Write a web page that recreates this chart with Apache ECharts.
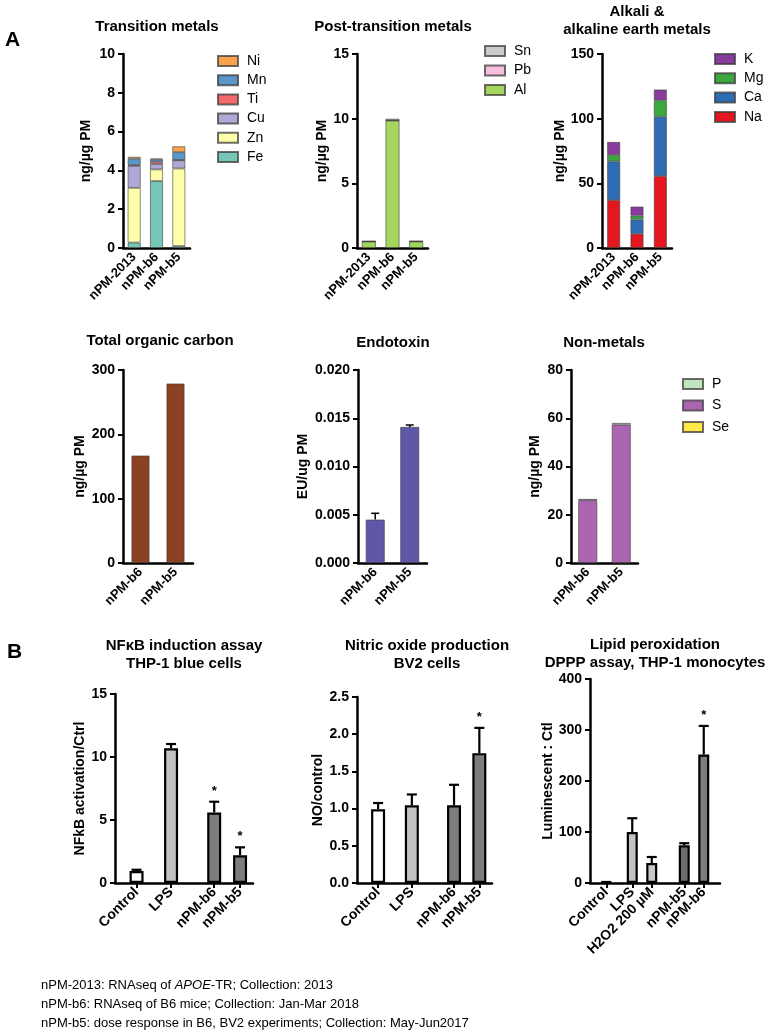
<!DOCTYPE html>
<html><head><meta charset="utf-8">
<script src="https://cdn.jsdelivr.net/npm/echarts@6/dist/echarts.min.js"></script>
<style>html,body{margin:0;padding:0;background:#fff}#c{width:769px;height:1034px}</style>
</head><body><div id="c"></div>
<script>
// ---------------- DATA ----------------
const samples3 = ['nPM-2013', 'nPM-b6', 'nPM-b5'];
const samples2 = ['nPM-b6', 'nPM-b5'];
// Transition metals (ng/µg PM)
const fe = [0.28, 3.45, 0.10];
const zn = [2.82, 0.60, 4.00];
const cu = [1.13, 0.27, 0.42];
const ti = [0.05, 0.12, 0.02];
const mn = [0.32, 0.12, 0.40];
const ni = [0.10, 0.05, 0.30];
// Post-transition metals
const al = [0.50, 9.85, 0.50];
const pb = [0.01, 0.02, 0.01];
const sn = [0.02, 0.12, 0.03];
// Alkali & alkaline earth metals
const na = [37, 11, 55.5];
const ca = [30, 11, 46];
const mg = [5, 3, 12.7];
const kk = [10, 7, 8.3];
// Total organic carbon
const toc = [167, 279];
// Endotoxin (EU/ug PM)
const endo = [0.0045, 0.0141];
const endoErr = [0.00065, 0.0002];
// Non-metals
const se = [0.05, 0.05];
const su = [26, 57.3];
const ph = [0.5, 0.7];
// B: NFkB
const nfkbCats = ['Control', 'LPS', 'nPM-b6', 'nPM-b5'];
const nfkbMean = [0.95, 10.7, 5.6, 2.2];
const nfkbErr = [0.1, 0.33, 0.85, 0.63];
const nfkbSig = [0, 0, 1, 1];
// B: Nitric oxide
const noCats = ['Control', 'LPS', 'nPM-b6', 'nPM-b5'];
const noMean = [0.99, 1.045, 1.045, 1.745];
const noErr = [0.085, 0.145, 0.275, 0.34];
const noSig = [0, 0, 0, 1];
// B: Lipid peroxidation
const lipCats = ['Control', 'LPS', 'H2O2 200 µM', 'nPM-b5', 'nPM-b6'];
const lipMean = [1, 100, 39, 74, 252];
const lipErr = [1, 27, 12, 4, 56];
const lipSig = [0, 0, 0, 0, 1];

// ---------------- LAYOUT / STYLE ----------------
const FONT = "'Liberation Sans', Arial, Helvetica, sans-serif";
const NARROW = "'Liberation Sans Narrow', 'Arial Narrow', 'Liberation Sans', Arial, sans-serif";
const nfkbSlots = [2, 6, 11, 14], nfkbN = 16;
const noSlots = [2, 6, 11, 14], noN = 16;
const lipSlots = [2, 6, 9, 14, 17], lipN = 20;
const nfkbFill = ['#ffffff', '#c2c2c2', '#7d7d7d', '#7d7d7d'];
const noFill = ['#ffffff', '#c2c2c2', '#7d7d7d', '#7d7d7d'];
const lipFill = ['#ffffff', '#c2c2c2', '#c8c8c8', '#6e6e6e', '#7d7d7d'];

const grids = [
  {left: 123, top: 54, width: 67, height: 194},
  {left: 357, top: 54, width: 71, height: 194},
  {left: 602, top: 54, width: 70, height: 194},
  {left: 123, top: 370, width: 70, height: 193},
  {left: 358, top: 370, width: 69, height: 193},
  {left: 571, top: 370, width: 67, height: 193},
  {left: 115, top: 694, width: 138, height: 189},
  {left: 357, top: 697, width: 135, height: 186},
  {left: 590, top: 679, width: 130, height: 204}
];

function slotCats(n, slots, labels) {
  const a = [];
  for (let i = 0; i < n; i++) a.push('_' + i);
  slots.forEach((s, i) => { a[s] = labels[i]; });
  return a;
}
const isReal = (i, v) => typeof v === 'string' && v.charAt(0) !== '_';

function xCat(gi, data, opts) {
  opts = opts || {};
  return {
    type: 'category', gridIndex: gi, data: data,
    axisLine: {show: true, lineStyle: {color: '#000', width: 2.5}},
    axisTick: opts.ticks ? {show: true, alignWithLabel: true, interval: isReal, length: 5, lineStyle: {color: '#000', width: 2}} : {show: false},
    axisLabel: {rotate: 45, interval: 0, hideOverlap: false,
      fontSize: opts.fs || 13, fontWeight: 'bold', color: '#000',
      fontFamily: FONT, margin: 7, formatter: v => (v.charAt(0) === '_' ? '' : v)},
    splitLine: {show: false}
  };
}
function yVal(gi, max, interval, name, nameGap, fmt, nameSize) {
  return {
    type: 'value', gridIndex: gi, min: 0, max: max, interval: interval,
    name: name, nameLocation: 'middle', nameGap: nameGap, nameRotate: 90,
    nameTextStyle: {fontSize: nameSize || 14, fontWeight: 'bold', color: '#000', fontFamily: FONT},
    axisLine: {show: true, lineStyle: {color: '#000', width: 2.5}},
    axisTick: {show: true, length: 5, lineStyle: {color: '#000', width: 2}},
    axisLabel: {fontSize: 14, fontWeight: 'bold', color: '#000', fontFamily: FONT, margin: 8, formatter: fmt},
    splitLine: {show: false}
  };
}

const thinBorder = {borderColor: 'rgba(60,60,60,0.75)', borderWidth: 0.8};
function stackBar(name, gi, data, color, stack, w) {
  return {name: name, type: 'bar', xAxisIndex: gi, yAxisIndex: gi, stack: stack, data: data, barWidth: w,
    itemStyle: Object.assign({color: color}, thinBorder), emphasis: {disabled: true}, animation: false};
}

function errSeries(gi, items, lw, capHalf) {
  return {
    type: 'custom', xAxisIndex: gi, yAxisIndex: gi, data: items, encode: {x: 0, y: 1}, clip: false, z: 5, animation: false,
    renderItem: function (params, api) {
      const x = api.value(0), m = api.value(1), e = api.value(2), sig = api.value(3);
      const p0 = api.coord([x, m]);
      const p1 = api.coord([x, m + e]);
      const ls = {stroke: '#000', lineWidth: lw};
      const ch = [
        {type: 'line', shape: {x1: p0[0], y1: p0[1], x2: p1[0], y2: p1[1]}, style: ls},
        {type: 'line', shape: {x1: p1[0] - capHalf, y1: p1[1], x2: p1[0] + capHalf, y2: p1[1]}, style: ls}
      ];
      if (sig) ch.push({type: 'text', x: p1[0], y: p1[1] - 4,
        style: {text: '*', fill: '#000', font: 'bold 13px ' + FONT, align: 'center', verticalAlign: 'bottom'}});
      return {type: 'group', children: ch};
    }
  };
}
function slotBars(gi, n, slots, vals, fills, w) {
  const arr = new Array(n).fill('-');
  slots.forEach((s, i) => { arr[s] = {value: vals[i], itemStyle: {color: fills[i]}}; });
  return {type: 'bar', xAxisIndex: gi, yAxisIndex: gi, data: arr, barWidth: w, animation: false,
    itemStyle: {borderColor: '#000', borderWidth: 2.2}, emphasis: {disabled: true}};
}

function legendAt(names, left, top, gap) {
  return {data: names, orient: 'vertical', left: left, top: top, itemWidth: 20, itemHeight: 10, itemGap: gap,
    icon: 'rect', selectedMode: false, padding: 0,
    textStyle: {fontSize: 14, color: '#000', fontFamily: FONT, lineHeight: 14, padding: [0, 0, 0, 4]}};
}
function ttl(text, cx, top) {
  return {text: text, left: cx, top: top, textAlign: 'center', padding: 0,
    textStyle: {fontSize: 15, fontWeight: 'bold', color: '#000', fontFamily: FONT, lineHeight: 18}};
}

const option = {
  backgroundColor: '#fff',
  animation: false,
  title: [
    ttl('Transition metals', 157, 18),
    ttl('Post-transition metals', 393, 18),
    ttl('Alkali &\nalkaline earth metals', 637, 3),
    ttl('Total organic carbon', 160, 332),
    ttl('Endotoxin', 393, 334),
    ttl('Non-metals', 604, 334),
    ttl('NFκB induction assay\nTHP-1 blue cells', 184, 637),
    ttl('Nitric oxide production\nBV2 cells', 427, 637),
    ttl('Lipid peroxidation\nDPPP assay, THP-1 monocytes', 655, 636)
  ],
  legend: [
    legendAt(['Ni', 'Mn', 'Ti', 'Cu', 'Zn', 'Fe'], 217, 54, 5.2),
    legendAt(['Sn', 'Pb', 'Al'], 484, 44, 5.5),
    legendAt(['K', 'Mg', 'Ca', 'Na'], 714, 52, 5.3),
    legendAt(['P', 'S', 'Se'], 682, 377, 7.5)
  ],
  grid: grids,
  xAxis: [
    xCat(0, samples3), xCat(1, samples3), xCat(2, samples3),
    xCat(3, samples2), xCat(4, samples2), xCat(5, samples2),
    xCat(6, slotCats(nfkbN, nfkbSlots, nfkbCats), {ticks: true, fs: 14}),
    xCat(7, slotCats(noN, noSlots, noCats), {ticks: true, fs: 14}),
    xCat(8, slotCats(lipN, lipSlots, lipCats), {ticks: true, fs: 14})
  ],
  yAxis: [
    yVal(0, 10, 2, 'ng/µg PM', 30),
    yVal(1, 15, 5, 'ng/µg PM', 28),
    yVal(2, 150, 50, 'ng/µg PM', 35),
    yVal(3, 300, 100, 'ng/µg PM', 36),
    yVal(4, 0.02, 0.005, 'EU/ug PM', 48, v => v.toFixed(3)),
    yVal(5, 80, 20, 'ng/µg PM', 29),
    yVal(6, 15, 5, 'NFkB activation/Ctrl', 28),
    yVal(7, 2.5, 0.5, 'NO/control', 32, v => v.toFixed(1)),
    yVal(8, 400, 100, 'Luminescent : Ctl', 31)
  ],
  series: [
    stackBar('Fe', 0, fe, '#74C7B6', 'tm', 13),
    stackBar('Zn', 0, zn, '#FDFDAA', 'tm', 13),
    stackBar('Cu', 0, cu, '#B0A9D5', 'tm', 13),
    stackBar('Ti', 0, ti, '#F46A6A', 'tm', 13),
    stackBar('Mn', 0, mn, '#5A97CB', 'tm', 13),
    stackBar('Ni', 0, ni, '#F8A34B', 'tm', 13),

    stackBar('Al', 1, al, '#A4D65E', 'pt', 14),
    stackBar('Pb', 1, pb, '#F7BFDD', 'pt', 14),
    stackBar('Sn', 1, sn, '#CBCBCB', 'pt', 14),

    stackBar('Na', 2, na, '#E4161F', 'ak', 13),
    stackBar('Ca', 2, ca, '#2E6CB4', 'ak', 13),
    stackBar('Mg', 2, mg, '#3CA73F', 'ak', 13),
    stackBar('K', 2, kk, '#8A3B9E', 'ak', 13),

    stackBar('TOC', 3, toc, '#8C4222', 'toc', 18),

    stackBar('Endotoxin', 4, endo, '#5F58A8', 'en', 19),
    errSeries(4, endo.map((v, i) => [i, v, endoErr[i], 0]), 1.5, 4),

    stackBar('Se', 5, se, '#FFE84A', 'nm', 19),
    stackBar('S', 5, su, '#AC65B1', 'nm', 19),
    stackBar('P', 5, ph, '#BFE6BC', 'nm', 19),

    slotBars(6, nfkbN, nfkbSlots, nfkbMean, nfkbFill, 14),
    errSeries(6, nfkbSlots.map((s, i) => [s, nfkbMean[i], nfkbErr[i], nfkbSig[i]]), 2.2, 5),
    slotBars(7, noN, noSlots, noMean, noFill, 14),
    errSeries(7, noSlots.map((s, i) => [s, noMean[i], noErr[i], noSig[i]]), 2.2, 5),
    slotBars(8, lipN, lipSlots, lipMean, lipFill, 11),
    errSeries(8, lipSlots.map((s, i) => [s, lipMean[i], lipErr[i], lipSig[i]]), 2.2, 5)
  ],
  graphic: [
    {type: 'text', x: 5, y: 40, style: {text: 'A', font: 'bold 21px ' + FONT, fill: '#000', verticalAlign: 'middle'}},
    {type: 'text', x: 7, y: 652, style: {text: 'B', font: 'bold 21px ' + FONT, fill: '#000', verticalAlign: 'middle'}},
    {type: 'text', x: 41, y: 985, style: {text: 'nPM-2013: RNAseq of {i|APOE}-TR; Collection: 2013', font: '13px ' + NARROW, fill: '#000', verticalAlign: 'middle',
      rich: {i: {fontStyle: 'italic', fontSize: 13, fontFamily: NARROW, fill: '#000'}}}},
    {type: 'text', x: 41, y: 1004, style: {text: 'nPM-b6: RNAseq of B6 mice; Collection: Jan-Mar 2018', font: '13px ' + NARROW, fill: '#000', verticalAlign: 'middle'}},
    {type: 'text', x: 41, y: 1023, style: {text: 'nPM-b5: dose response in B6, BV2 experiments; Collection: May-Jun2017', font: '13px ' + NARROW, fill: '#000', verticalAlign: 'middle'}}
  ]
};
const chart = echarts.init(document.getElementById('c'), null, {renderer: 'canvas'});
chart.setOption(option);
</script>
</body></html>
